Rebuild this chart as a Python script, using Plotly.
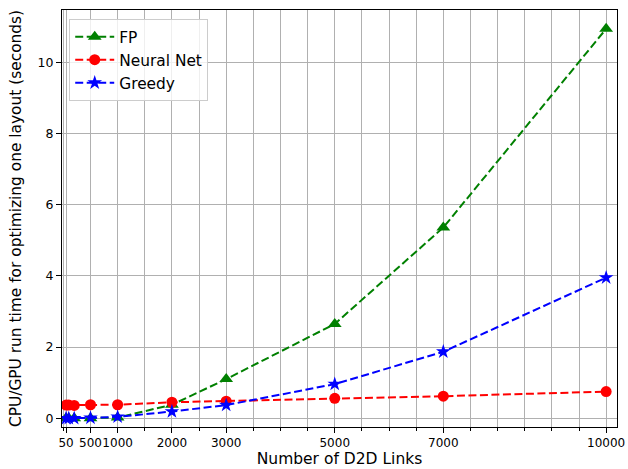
import plotly.graph_objects as go

links = [50, 100, 200, 500, 1000, 2000, 3000, 5000, 7000, 10000]
fp = [0.0, 0.0, 0.0, 0.0, 0.02, 0.38, 1.1, 2.65, 5.36, 10.94]
neural = [0.37, 0.37, 0.36, 0.38, 0.38, 0.45, 0.48, 0.56, 0.62, 0.75]
greedy = [0.0, 0.0, 0.0, 0.01, 0.04, 0.19, 0.37, 0.96, 1.87, 3.95]

x_ticks = [50, 500, 1000, 2000, 3000, 5000, 7000, 10000]
x_minor = list(range(0, 10001, 500))
y_ticks = [0, 2, 4, 6, 8, 10]

fig = go.Figure()
series = [
    ("FP", fp, "#008000", "triangle-up", 12),
    ("Neural Net", neural, "#ff0000", "circle", 11),
    ("Greedy", greedy, "#0000ff", "star", 11),
]
for name, vals, col, sym, sz in series:
    fig.add_trace(go.Scatter(
        x=links, y=vals, name=name, mode="lines+markers",
        line=dict(color=col, width=2, dash="8px,3.5px"),
        marker=dict(color=col, symbol=sym, size=sz, line=dict(width=0)),
    ))

fig.update_layout(
    width=628, height=469,
    margin=dict(l=62, r=11, t=10, b=42),
    paper_bgcolor="white", plot_bgcolor="white",
    font=dict(family="DejaVu Sans", size=13, color="black"),
    legend=dict(
        x=0.013, y=0.978, xanchor="left", yanchor="top",
        bgcolor="rgba(255,255,255,0.8)", bordercolor="#cccccc", borderwidth=1,
        font=dict(size=15.4), tracegroupgap=0, itemwidth=39,
    ),
    showlegend=True,
)
fig.update_xaxes(
    range=[-25, 10200], automargin=False,
    tickmode="array", tickvals=x_ticks, ticktext=[str(v) for v in x_ticks],
    tickangle=0, ticklabeloverflow="allow",
    ticks="outside", ticklen=5, tickwidth=1, tickcolor="black",
    showline=True, linecolor="black", linewidth=1, mirror=True,
    showgrid=True, gridcolor="#b0b0b0", gridwidth=1,
    zeroline=False,
    tickfont=dict(size=12),
    minor=dict(tickmode="array", tickvals=x_minor, ticks="outside", ticklen=2.5,
               tickcolor="black", showgrid=True, gridcolor="#b0b0b0", gridwidth=1),
    title=dict(text="Number of D2D Links", font=dict(size=15.5), standoff=2),
)
fig.update_yaxes(
    range=[-0.245, 11.47], automargin=False,
    tickmode="array", tickvals=y_ticks,
    ticks="outside", ticklen=5, tickwidth=1, tickcolor="black",
    showline=True, linecolor="black", linewidth=1, mirror=True,
    showgrid=True, gridcolor="#b0b0b0", gridwidth=1,
    zeroline=False,
    tickfont=dict(size=12.5),
    title=dict(text="CPU/GPU run time for optimizing one layout (seconds)", font=dict(size=15.4), standoff=12),
)

fig.write_html(
    "out.html",
    config={"displayModeBar": False},
    post_script="document.body.style.margin='0';document.body.style.overflow='hidden';",
)
